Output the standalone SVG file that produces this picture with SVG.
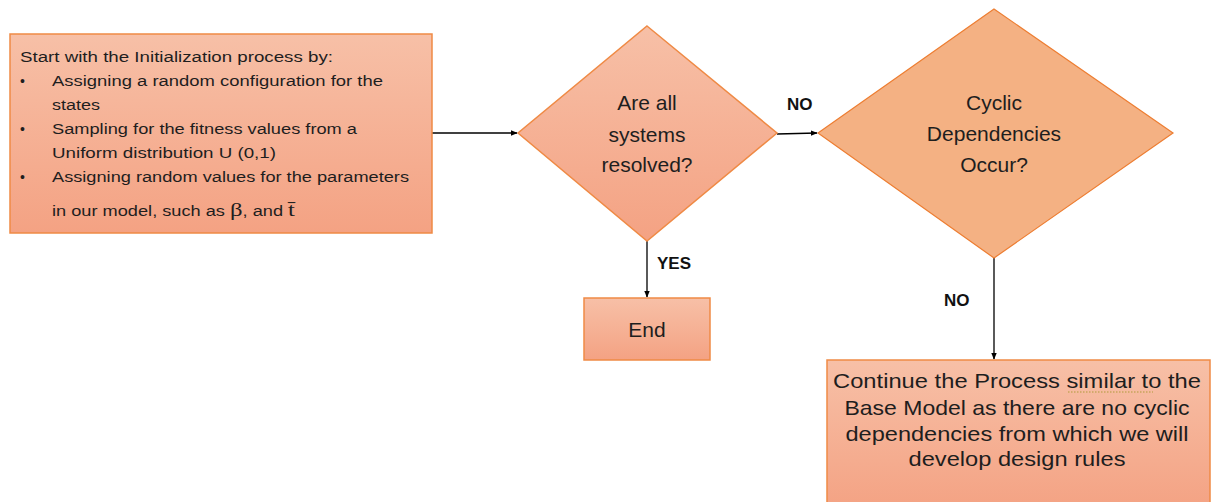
<svg xmlns="http://www.w3.org/2000/svg" width="1212" height="502" viewBox="0 0 1212 502">
  <defs>
    <linearGradient id="peach" x1="0" y1="0" x2="0" y2="1">
      <stop offset="0" stop-color="#f7c0a7"/>
      <stop offset="1" stop-color="#f4a283"/>
    </linearGradient>
    <marker id="arrow" viewBox="0 0 10 10" refX="9" refY="5" markerWidth="7" markerHeight="7" orient="auto" markerUnits="userSpaceOnUse">
      <path d="M0,1 L10,5 L0,9 z" fill="#000"/>
    </marker>
  </defs>
  <style>
    .shape { fill: url(#peach); stroke: #ef8a45; stroke-width: 1.5; }
    .flat { fill: #f4b183; stroke: #ed7d31; stroke-width: 1.2; }
    .txt { font-family: "Liberation Sans", Arial, sans-serif; fill: #1e1e1e; }
    .small { font-size: 14px; }
    .big { font-size: 21px; text-anchor: middle; }
    .lbl { font-family: "Liberation Sans", Arial, sans-serif; font-weight: bold; font-size: 17px; fill: #111; }
    .conn { stroke: #000; stroke-width: 1.3; fill: none; marker-end: url(#arrow); }
  </style>

  <rect width="1212" height="502" fill="#fff"/>

  <!-- connectors -->
  <g id="connectors">
    <line class="conn" x1="432" y1="133" x2="517" y2="133"/>
    <line class="conn" x1="777" y1="134" x2="817" y2="133"/>
    <line class="conn" x1="647" y1="241" x2="647" y2="297"/>
    <line class="conn" x1="994" y1="258" x2="994" y2="359"/>
    <text class="lbl" x="787" y="110">NO</text>
    <text class="lbl" x="657" y="269">YES</text>
    <text class="lbl" x="944" y="306">NO</text>
  </g>

  <!-- initialization box -->
  <g id="init">
    <rect class="shape" x="10" y="34" width="422" height="199"/>
    <text class="txt small" x="20" y="62" textLength="313" lengthAdjust="spacingAndGlyphs">Start with the Initialization process by:</text>
    <text class="txt small" x="20" y="86">•</text>
    <text class="txt small" x="52" y="86" textLength="331" lengthAdjust="spacingAndGlyphs">Assigning a random configuration for the</text>
    <text class="txt small" x="52" y="110" textLength="48" lengthAdjust="spacingAndGlyphs">states</text>
    <text class="txt small" x="20" y="134">•</text>
    <text class="txt small" x="52" y="134" textLength="305" lengthAdjust="spacingAndGlyphs">Sampling for the fitness values from a</text>
    <text class="txt small" x="52" y="158" textLength="224" lengthAdjust="spacingAndGlyphs">Uniform distribution U (0,1)</text>
    <text class="txt small" x="20" y="182">•</text>
    <text class="txt small" x="52" y="182" textLength="357" lengthAdjust="spacingAndGlyphs">Assigning random values for the parameters</text>
    <text class="txt" font-size="14" x="52" y="216" textLength="243" lengthAdjust="spacingAndGlyphs">in our model, such as <tspan font-family="Liberation Serif, serif" font-size="19">β</tspan>, and <tspan font-family="Liberation Serif, serif" font-size="19">t̄</tspan></text>
  </g>

  <!-- first decision -->
  <g id="resolved">
    <polygon class="shape" points="647,26 777,133 647,241 518,133"/>
    <text class="txt big" x="647" y="110">Are all</text>
    <text class="txt big" x="647" y="142">systems</text>
    <text class="txt big" x="647" y="172">resolved?</text>
  </g>

  <!-- second decision -->
  <g id="cyclic">
    <polygon class="flat" points="994,9 1173,133 994,258 818,133"/>
    <text class="txt big" x="994" y="110">Cyclic</text>
    <text class="txt big" x="994" y="141">Dependencies</text>
    <text class="txt big" x="994" y="172">Occur?</text>
  </g>

  <!-- end box -->
  <g id="end">
    <rect class="shape" x="584" y="298" width="126" height="62"/>
    <text class="txt big" x="647" y="337">End</text>
  </g>

  <!-- continuation box -->
  <g id="continue">
    <rect class="shape" x="827" y="360" width="383" height="150"/>
    <text class="txt big" x="1017" y="388" textLength="368" lengthAdjust="spacingAndGlyphs">Continue the Process similar to the</text>
    <line x1="1068" y1="392" x2="1153" y2="392" stroke="#b09a3a" stroke-width="1.2" stroke-dasharray="1.5 1.5"/>
    <text class="txt big" x="1017" y="415" textLength="345" lengthAdjust="spacingAndGlyphs">Base Model as there are no cyclic</text>
    <text class="txt big" x="1017" y="441" textLength="343" lengthAdjust="spacingAndGlyphs">dependencies from which we will</text>
    <text class="txt big" x="1017" y="466" textLength="217" lengthAdjust="spacingAndGlyphs">develop design rules</text>
  </g>
</svg>
